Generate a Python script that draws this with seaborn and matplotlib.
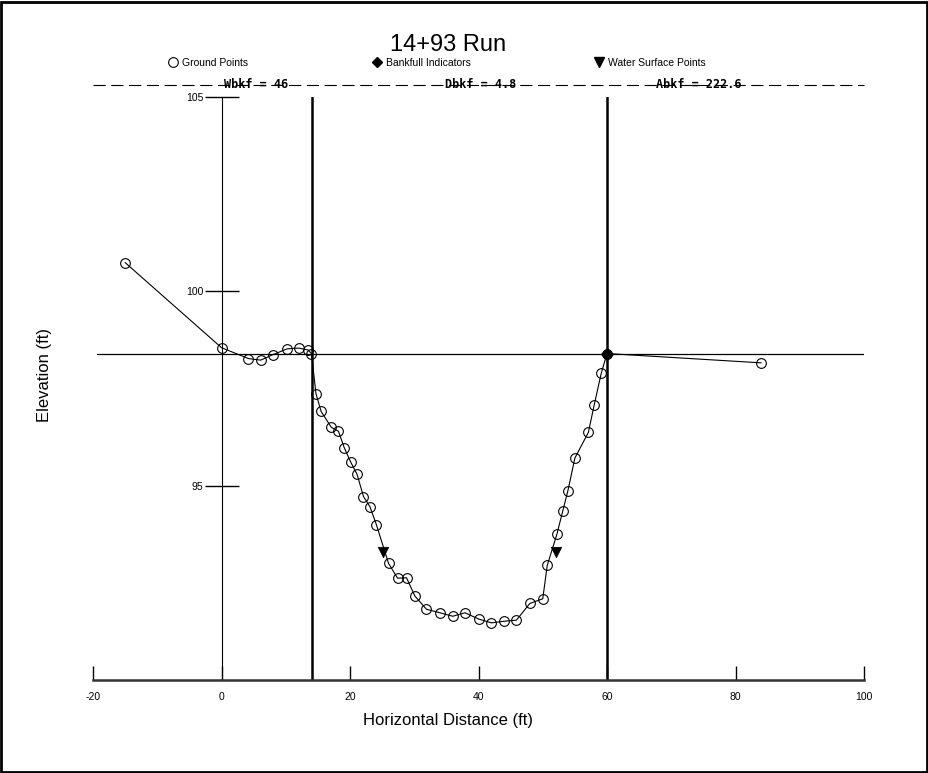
import matplotlib
matplotlib.use("Agg")
import matplotlib.pyplot as plt
import seaborn as sns
import pandas as pd
from matplotlib.lines import Line2D
from matplotlib.patches import Rectangle

# ---- data ----
ground_x = [-15, 0, 4.2, 6.1, 8.0, 10.2, 12.0, 13.5, 14.0, 14.7, 15.5, 17.1, 18.2, 19.1,
            20.1, 21.1, 22.1, 23.1, 24.1, 26.0, 27.4, 28.8, 30.1, 31.9, 34.0, 36.0, 37.9,
            40.0, 42.0, 43.9, 45.9, 48.0, 50.0, 50.7, 52.2, 53.1, 53.9, 55.0, 57.1, 58.0,
            59.1, 60.0, 84.0]
ground_y = [100.74, 98.55, 98.27, 98.23, 98.37, 98.52, 98.54, 98.49, 98.40, 97.37, 96.91,
            96.50, 96.40, 95.98, 95.61, 95.29, 94.72, 94.46, 94.00, 93.00, 92.62, 92.63,
            92.16, 91.82, 91.73, 91.64, 91.73, 91.57, 91.47, 91.51, 91.54, 91.97, 92.09,
            92.95, 93.75, 94.34, 94.86, 95.71, 96.37, 97.07, 97.89, 98.40, 98.16]
bankfull_x = [60.0]
bankfull_y = [98.40]
bank_limits_x = [14.1, 60.0]
water_x = [25.2, 52.0]
water_y = [93.30, 93.30]
bankfull_elev = 98.40
summary_labels = ["Wbkf", "Dbkf", "Abkf"]
summary_values = ["46", "4.8", "222.6"]
summary_x = [5.4, 40.3, 74.3]
xticks = [-20, 0, 20, 40, 60, 80, 100]
yticks = [95, 100, 105]
title = "14+93 Run"

sns.set_style("white")
plt.rcParams["font.family"] = ["Liberation Sans", "DejaVu Sans"]
plt.rcParams["axes.unicode_minus"] = False
plt.rcParams["text.color"] = "black"
plt.rcParams["xtick.color"] = "black"
plt.rcParams["ytick.color"] = "black"

W, H = 929, 773
fig = plt.figure(figsize=(W / 100, H / 100), dpi=100)
ax = fig.add_axes([93 / W, 93 / H, (864 - 93) / W, (680 - 97) / H])
ax.set_xlim(-20, 100)
ax.set_ylim(90, 105)

# bankfull horizontal line and vertical bankfull boundaries
ax.axhline(bankfull_elev, xmin=0.005, xmax=1.0, color="black", lw=0.9, zorder=1)
for bx in bank_limits_x:
    ax.plot([bx, bx], [90, 105], color="black", lw=1.8, zorder=1)

gdf = pd.DataFrame({"x": ground_x, "y": ground_y})
sns.lineplot(data=gdf, x="x", y="y", sort=False, estimator=None, ax=ax, color="black",
             lw=0.8, marker="o", markersize=7, markerfacecolor="none",
             markeredgecolor="black", markeredgewidth=0.8, zorder=3)
sns.scatterplot(x=bankfull_x, y=bankfull_y, ax=ax, marker="D", s=40, color="black",
                edgecolor="black", zorder=4)
sns.scatterplot(x=water_x, y=water_y, ax=ax, marker="v", s=55, color="black",
                edgecolor="black", zorder=4)

# dashed summary line above plot
ytop = 105.31
ax.plot([-20, 100], [ytop, ytop], color="black", lw=0.8, ls=(0, (11, 5)), clip_on=False)
for lab, val, sx in zip(summary_labels, summary_values, summary_x):
    ax.text(sx, ytop, f"{lab} = {val}", ha="center", va="center", fontsize=8.5,
            fontweight="bold", family="DejaVu Sans Mono", clip_on=False)

# axes styling
for s in ["top", "right"]:
    ax.spines[s].set_visible(False)
ax.spines["left"].set_position(("data", 0))
ax.spines["left"].set_linewidth(0.8)
ax.spines["left"].set_color("black")
ax.spines["left"].set_bounds(90, 105)
ax.spines["bottom"].set_linewidth(1.8)
ax.spines["bottom"].set_color("#333333")
ax.set_xticks(xticks)
ax.set_yticks(yticks)
ax.tick_params(axis="x", bottom=True, direction="in", length=10, width=1, pad=9,
               labelsize=7.5, colors="black")
ax.tick_params(axis="y", left=True, direction="inout", length=24, width=1, pad=1,
               labelsize=7.5, colors="black")
ax.set_xlabel("")
ax.set_ylabel("")
ax.set_facecolor("white")

fig.text(448 / W, 1 - 720 / H, "Horizontal Distance (ft)", ha="center", va="center", fontsize=12)
fig.text(45 / W, 1 - 375 / H, "Elevation (ft)", ha="center", va="center", fontsize=12,
         rotation=90)
fig.text(448 / W, 1 - 45 / H, title, ha="center", va="center", fontsize=17)

handles = [
    Line2D([], [], ls="none", marker="o", markersize=7, markerfacecolor="none",
           markeredgecolor="black", markeredgewidth=0.8),
    Line2D([], [], ls="none", marker="D", markersize=5.5, color="black"),
    Line2D([], [], ls="none", marker="v", markersize=7.5, color="black"),
]
fig.legend(handles, ["Ground Points", "Bankfull Indicators", "Water Surface Points"],
           ncol=3, loc="center", bbox_to_anchor=(437 / W, 1 - 63 / H), frameon=False,
           fontsize=7.5, handlelength=1, handletextpad=0.4, columnspacing=11.8)

fig.patches.append(Rectangle((1 / W, 1 / H), (W - 3) / W, (H - 3) / H, fill=False,
                             edgecolor="black", lw=2, transform=fig.transFigure))

fig.savefig("out.png", dpi=100, facecolor="white")
